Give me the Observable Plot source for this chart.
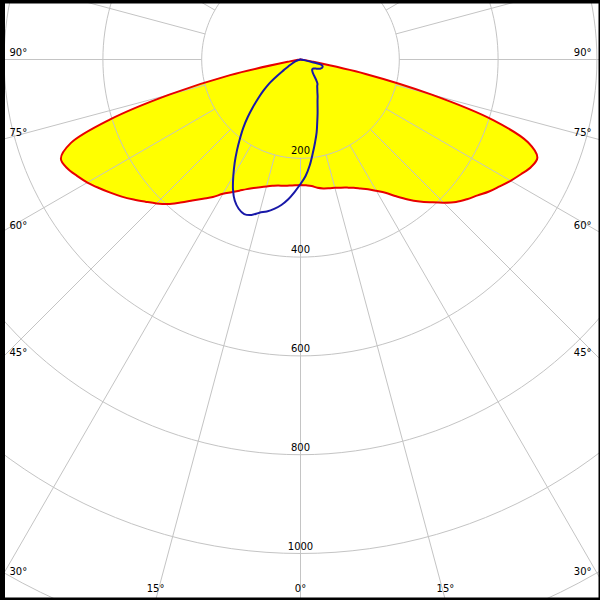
<!DOCTYPE html>
<html><head><meta charset="utf-8">
<script src="https://cdn.jsdelivr.net/npm/d3@7"></script>
<script src="https://cdn.jsdelivr.net/npm/@observablehq/plot@0.6"></script>
<style>body{margin:0;background:#fff} svg{overflow:hidden;display:block}</style>
</head><body><div id="chart"></div>
<script>
// Gamma angles (degrees from nadir)
const gammas = [0,2.5,5,7.5,10,12.5,15,17.5,20,22.5,25,27.5,30,32.5,35,37.5,40,42.5,45,47.5,50,52.5,55,57.5,60,62.5,65,67.5,70,72.5,75,77.5,80,82.5,85,87.5,90];
// Luminous intensity (cd) – red plane, left half (C180) and right half (C0)
const redC180 = [254,255,256,258,259,262,266,271,277,284,293,303,314,330,344,360,378,397,412,426,441,456,470,484,498,510,521,525,495,405,275,146,22,5,0,0,0];
const redC0   = [254,255,257,262,265,267,269,272,276,281,288,296,307,320,338,357,375,392,410,427,440,452,466,478,491,503,515,519,490,410,275,135,25,6,0,0,0];
// Blue plane, left half (C270) and right half (C90)
const blueC270 = [252,268,284,297,307,315,321,330,333,327,315,296,272,248,224,201,180,158,136,116,98,80,58,40,30,23,18,14,10,7,4,2,1,0,0,0,0];
const blueC90  = [252,236,215,191,170,151,131,115,101,90,82,74,68,63,60,52,43,37,34,32,31,31,32,34,37,41,44,46,47,47,45,25,10,3,0,0,0];
// Grid
const rings = [200,400,600,800,1000,1200];
const ringLabels = [200,400,600,800,1000];
const spokeAngles = [0,15,30,45,60,75,90,105,120,135,150,165,180,195,210,225,240,255,270,285,300,315,330,345];
const edgeLabelAngles = [90,75,60,45,30];
const bottomLabels = [{a:15, side:-1, t:"15°"},{a:0, side:1, t:"0°"},{a:15, side:1, t:"15°"}];

const k = 0.494; // px per cd
const xMin = -300/k, xMax = 300/k, yMin = -59/k, yMax = 541/k;
const rad = d => d*Math.PI/180;

function pt(g, I, side){ return {x: side*I*Math.sin(rad(g)), y: I*Math.cos(rad(g))}; }
function closed(leftVals, rightVals){
  const left = gammas.map((g,i)=>pt(g,leftVals[i],-1)).reverse();
  const right = gammas.map((g,i)=>pt(g,rightVals[i],1));
  return left.concat(right);
}
const red = closed(redC180, redC0);
const blue = closed(blueC270, blueC90);

const ringPts = [];
for (const r of rings) for (let a=0; a<=360; a+=2) ringPts.push({r, x: r*Math.sin(rad(a)), y: r*Math.cos(rad(a))});

const grey = "#c4c4c4";
const chart = Plot.plot({
  width: 600, height: 600, margin: 0,
  x: {domain: [xMin, xMax], range: [0, 600], axis: null},
  y: {domain: [yMin, yMax], range: [0, 600], axis: null},
  style: {fontFamily: "DejaVu Sans", fontSize: "10px", background: "white", color: "black"},
  marks: [
    Plot.line(red, {x: "x", y: "y", fill: "#ffff00", stroke: "none", curve: "catmull-rom"}),
    Plot.line(ringPts, {x: "x", y: "y", z: "r", stroke: grey, strokeWidth: 1}),
    Plot.link(spokeAngles, {
      x1: a => 200*Math.sin(rad(a)), y1: a => 200*Math.cos(rad(a)),
      x2: a => 1500*Math.sin(rad(a)), y2: a => 1500*Math.cos(rad(a)),
      stroke: grey, strokeWidth: 1
    }),
    Plot.text(ringLabels, {x: d => 0, y: d => d, text: d => String(d), dy: -4, lineAnchor: "bottom", textAnchor: "middle", fill: "black"}),
    Plot.text(edgeLabelAngles, {x: d => xMin, y: a => (300/k)*Math.cos(rad(a))/Math.sin(rad(a)), text: a => a + "°", dx: 9, dy: -4, lineAnchor: "bottom", textAnchor: "start", fill: "black"}),
    Plot.text(edgeLabelAngles, {x: d => xMax, y: a => (300/k)*Math.cos(rad(a))/Math.sin(rad(a)), text: a => a + "°", dx: -9, dy: -4, lineAnchor: "bottom", textAnchor: "end", fill: "black"}),
    Plot.text(bottomLabels, {x: d => d.side*yMax*Math.tan(rad(d.a)), y: d => yMax, text: "t", dy: -9, lineAnchor: "bottom", textAnchor: "middle", fill: "black"}),
    Plot.line(red, {x: "x", y: "y", stroke: "#e80000", strokeWidth: 2, curve: "catmull-rom"}),
    Plot.line(blue, {x: "x", y: "y", stroke: "#1818a8", strokeWidth: 2, curve: "catmull-rom"}),
    Plot.ruleX([xMin], {stroke: "black", strokeWidth: 9}),
    Plot.ruleX([xMax], {stroke: "black", strokeWidth: 4}),
    Plot.ruleY([yMin], {stroke: "black", strokeWidth: 6}),
    Plot.ruleY([yMax], {stroke: "black", strokeWidth: 6})
  ]
});
document.getElementById("chart").appendChild(chart);
</script>
</body></html>
